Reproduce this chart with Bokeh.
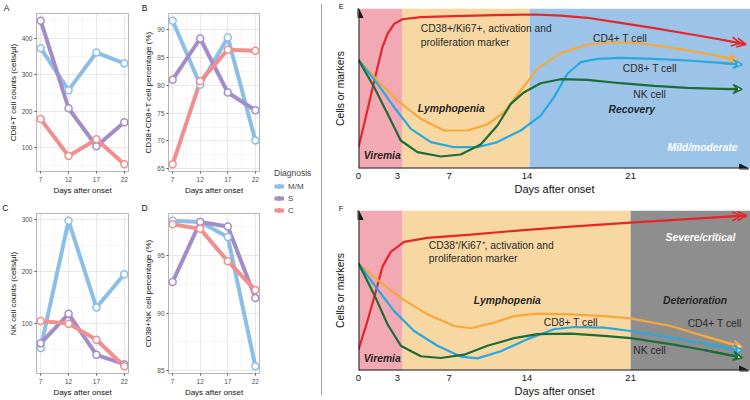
import math
from bokeh.plotting import figure
from bokeh.layouts import row, column
from bokeh.models import (Range1d, FixedTicker, Label, Legend, LegendItem, Arrow,
                          NormalHead, OpenHead, VeeHead, Span)
from bokeh.embed import file_html
from bokeh.resources import INLINE

FONT = "Liberation Sans"

# ---------------- data: panels A-D ----------------
days = [7, 12, 17, 22]
groups = ["M/M", "S", "C"]
group_colors = ["#8CBFE8", "#A38DC9", "#F28E8E"]

cd8_mm = [374, 258, 362, 332]
cd8_s = [450, 208, 103, 169]
cd8_c = [178, 76, 122, 53]

cd38cd8_mm = [91.6, 80.1, 88.6, 70.1]
cd38cd8_s = [81.0, 88.4, 78.7, 75.5]
cd38cd8_c = [65.8, 80.7, 86.4, 86.2]

nk_mm = [52, 297, 130, 194]
nk_s = [61, 118, 39, 21]
nk_c = [104, 99, 68, 17]

cd38nk_mm = [98.0, 97.9, 96.6, 85.4]
cd38nk_s = [92.7, 97.9, 97.5, 91.3]
cd38nk_c = [97.7, 97.3, 94.5, 92.0]

ticks_A = [100, 200, 300, 400]
ticks_B = [65, 70, 75, 80, 85, 90]
ticks_C = [100, 200, 300]
ticks_D = [85, 90, 95]

# ---------------- data: schematic panels E-F ----------------
phase_days = [0, 3, 7, 14, 21]
phase_tick_pos = [0, 3, 7, 13, 21]

E_phase_left = [0, 3.4, 13.2]
E_phase_right = [3.4, 13.2, 30.25]
E_phase_colors = ["#F3A9B3", "#F8D8A2", "#9CC4E8"]

F_phase_left = [0, 3.4, 21.0]
F_phase_right = [3.4, 21.0, 30.25]
F_phase_colors = ["#F3A9B3", "#F8D8A2", "#8E8E8E"]

RED, ORANGE, LBLUE, GREEN = "#E3262B", "#F6A83B", "#29A8E0", "#1D6B37"

E_act_x = [0, 0.44, 0.95, 1.47, 1.85, 2.24, 2.75, 3.39, 4.81, 7.38, 10.46, 13.55, 15.6, 17.66, 20.23, 22.8, 25.37, 27.94, 29.9]
E_act_y = [13.3, 27.9, 45.6, 63.3, 75.8, 84.2, 90.4, 93.3, 94.6, 95.2, 95.8, 96.25, 95.6, 94.2, 91.0, 87.7, 84.2, 80.6, 77.6]
E_cd4_x = [0, 1.47, 3.01, 4.81, 6.61, 8.41, 9.95, 11.23, 12.52, 13.8, 15.6, 17.66, 19.72, 21.77, 24.34, 26.92, 29.3]
E_cd4_y = [67.9, 55.0, 42.5, 31.0, 23.75, 23.75, 27.5, 35.2, 48.75, 62.3, 72.1, 77.5, 79.0, 78.3, 75.2, 71.7, 67.6]
E_cd8_x = [0, 1.47, 2.75, 4.04, 5.58, 7.38, 9.18, 10.72, 12.52, 14.06, 15.09, 16.12, 17.15, 18.43, 20.23, 22.8, 25.37, 27.94, 29.6]
E_cd8_y = [67.9, 52.9, 38.3, 24.8, 16.5, 13.3, 13.3, 16.5, 23.75, 33.1, 44.6, 59.2, 66.5, 68.5, 69.2, 68.5, 67.5, 66.0, 65.0]
E_nk_x = [0, 1.21, 2.24, 3.26, 4.55, 6.35, 7.89, 9.43, 10.72, 11.75, 12.78, 14.06, 15.6, 17.66, 20.23, 22.8, 25.37, 27.94, 29.6]
E_nk_y = [67.9, 50.8, 34.2, 17.5, 10.2, 7.5, 8.75, 15.0, 26.9, 40.4, 47.7, 53.3, 55.8, 55.4, 53.3, 51.7, 50.4, 49.8, 49.6]

F_act_x = [0, 0.69, 1.34, 1.85, 2.49, 3.52, 5.32, 8.66, 12.52, 16.38, 21.0, 25.37, 29.95]
F_act_y = [13.0, 30.9, 49.5, 64.9, 74.2, 80.4, 82.9, 84.9, 87.6, 89.9, 92.4, 94.6, 96.9]
F_cd4_x = [0, 1.47, 3.26, 5.32, 7.38, 8.66, 10.46, 12.0, 13.8, 16.38, 18.95, 21.0, 24.09, 26.66, 29.6]
F_cd4_y = [67.0, 56.7, 45.4, 35.1, 27.8, 26.4, 29.9, 34.0, 35.5, 35.1, 34.0, 32.6, 27.8, 21.6, 14.6]
F_cd8_x = [0, 1.21, 2.75, 4.29, 6.09, 7.89, 9.18, 10.98, 13.03, 15.09, 16.63, 18.95, 21.0, 24.09, 26.66, 29.6]
F_cd8_y = [67.0, 53.6, 37.1, 24.7, 15.5, 8.7, 7.6, 12.0, 19.6, 25.8, 27.2, 26.8, 24.7, 20.6, 16.9, 12.2]
F_nk_x = [0, 1.21, 2.24, 3.26, 4.81, 6.35, 8.15, 9.95, 12.0, 13.8, 16.38, 18.95, 21.0, 24.09, 26.66, 29.6]
F_nk_y = [67.0, 47.4, 28.9, 15.5, 8.9, 7.8, 9.9, 15.5, 20.2, 22.7, 23.1, 21.6, 20.2, 16.5, 12.8, 8.0]


def style_axes(p, tick_size, label_size):
    for ax in p.axis:
        ax.axis_line_color = None
        ax.minor_tick_line_color = None
        ax.major_label_text_font = FONT
        ax.major_label_text_font_size = tick_size
        ax.major_label_text_color = "#4D4D4D"
        ax.axis_label_text_font = FONT
        ax.axis_label_text_font_size = label_size
        ax.axis_label_text_font_style = "normal"
        ax.axis_label_text_color = "#111111"


def panel_letter(p, letter, dx, size, standoff):
    p.title.text = letter
    p.title.align = "left"
    p.title.offset = dx
    p.title.standoff = standoff
    p.title.text_font = FONT
    p.title.text_font_size = size
    p.title.text_font_style = "normal"
    p.title.text_color = "#111111"


def lines_panel(letter, series, yticks, ylabel, width, height, bl, br, bt, bb, letter_dx, letter_so):
    allv = [v for s in series for v in s]
    lo, hi = min(allv), max(allv)
    pad = 0.05 * (hi - lo)
    xpad = 0.05 * (days[-1] - days[0])
    x0, x1 = days[0] - xpad, days[-1] + xpad
    y0, y1 = lo - pad, hi + pad
    p = figure(width=width, height=height,
               x_range=Range1d(x0, x1), y_range=Range1d(y0, y1),
               output_backend="svg", toolbar_location=None, tools="",
               min_border_left=bl, min_border_right=br, min_border_top=bt, min_border_bottom=bb)
    ystep = yticks[1] - yticks[0]
    yminor = [yticks[0] - ystep / 2] + [t + ystep / 2 for t in yticks]
    xstep = days[1] - days[0]
    xminor = [d + xstep / 2 for d in days[:-1]]
    xt = FixedTicker(ticks=days, minor_ticks=xminor)
    yt = FixedTicker(ticks=yticks, minor_ticks=yminor)
    p.xaxis.ticker = xt
    p.yaxis.ticker = yt
    p.xgrid.ticker = xt
    p.ygrid.ticker = yt
    style_axes(p, "6.5px", "8px")
    for ax in p.axis:
        ax.major_tick_line_color = "#555555"
        ax.major_tick_out = 2
        ax.major_tick_in = 0
        ax.major_label_standoff = 1
        ax.axis_label_standoff = 1
    p.yaxis.major_label_standoff = 0
    p.yaxis.axis_label_standoff = 1
    p.xaxis.axis_label = "Days after onset"
    p.yaxis.axis_label = ylabel
    p.grid.grid_line_color = "#E2E2E2"
    p.grid.grid_line_width = 0.8
    p.grid.minor_grid_line_color = "#F0F0F0"
    p.grid.minor_grid_line_width = 0.6
    p.outline_line_color = "#B5B5B5"
    p.outline_line_width = 1
    for s, c in zip(series, group_colors):
        p.line(days, s, line_color=c, line_width=4)
    for s, c in zip(series, group_colors):
        p.scatter(days, s, marker="circle", size=7, fill_color="white", line_color=c, line_width=1.5)
    panel_letter(p, letter, letter_dx, "8.5px", letter_so)
    return p


TOP_H, BOT_H = 197, 202
pA = lines_panel("A", [cd8_mm, cd8_s, cd8_c], ticks_A, "CD8+T cell counts (cells/μl)",
                 141, TOP_H, 36, 13, 13, 21, -32.7, 1)
pB = lines_panel("B", [cd38cd8_mm, cd38cd8_s, cd38cd8_c], ticks_B, "CD38+CD8+T cell percentage (%)",
                 121, TOP_H, 24, 3, 13, 21, -26.7, 1)
pC = lines_panel("C", [nk_mm, nk_s, nk_c], ticks_C, "NK cell counts (cells/μl)",
                 141, BOT_H, 36, 13, 16, 26, -34.3, 2)
pD = lines_panel("D", [cd38nk_mm, cd38nk_s, cd38nk_c], ticks_D, "CD38+NK cell percentage (%)",
                 121, BOT_H, 24, 3, 16, 26, -27, 2)

# ---------------- legend column ----------------
LEG_H = TOP_H + BOT_H
pL = figure(width=56, height=LEG_H, x_range=Range1d(0, 1), y_range=Range1d(0, 1),
            x_axis_location=None, y_axis_location=None, min_border=0,
            output_backend="svg", toolbar_location=None, tools="")
pL.grid.visible = False
pL.outline_line_color = None
items = []
for g, c, s in zip(groups, group_colors, [cd8_mm, cd8_s, cd8_c]):
    # proxies for the legend keys (they fall outside this blank frame)
    r1 = pL.line(days, s, line_color=c, line_width=4)
    r2 = pL.scatter(days, s, marker="circle", size=6, fill_color=c, line_color=c)
    items.append(LegendItem(label=g, renderers=[r1, r2]))
leg = Legend(items=items, location=(12, LEG_H - 219), title="Diagnosis",
             title_text_font=FONT, title_text_font_size="8.5px", title_text_font_style="normal",
             title_standoff=3, label_text_font=FONT, label_text_font_size="8px",
             label_height=10, glyph_height=10, glyph_width=10, spacing=2, label_standoff=4,
             padding=0, margin=0, border_line_color=None, background_fill_alpha=0)
pL.add_layout(leg)

# ---------------- separator ----------------
pS = figure(width=6, height=LEG_H, x_range=Range1d(0, 1), y_range=Range1d(0, 1),
            x_axis_location=None, y_axis_location=None, min_border=0,
            output_backend="svg", toolbar_location=None, tools="")
pS.min_border_top = 3
pS.min_border_bottom = 4
pS.grid.visible = False
pS.outline_line_color = None
pS.add_layout(Span(location=0.5, dimension="height", line_color="#A0A0A0", line_width=1))

# ---------------- schematic panels ----------------
XMAX = 30.25


def schematic(letter, pl, pr, pc, curves, texts, bold_texts, width, height, bt, bb):
    bl = 34
    fw = width - bl
    fh = height - bt - bb
    px_x = fw / XMAX
    px_y = fh / 100.0
    p = figure(width=width, height=height, x_range=Range1d(0, XMAX), y_range=Range1d(0, 100),
               output_backend="svg", toolbar_location=None, tools="",
               min_border_left=bl, min_border_right=0, min_border_top=bt, min_border_bottom=bb)
    p.grid.visible = False
    p.outline_line_color = None
    p.quad(left=pl, right=pr, bottom=0, top=100, fill_color=pc, line_color=None)
    p.xaxis.ticker = FixedTicker(ticks=phase_tick_pos)
    p.xaxis.major_label_overrides = {pos: str(d) for pos, d in zip(phase_tick_pos, phase_days)}
    p.yaxis.ticker = FixedTicker(ticks=[])
    style_axes(p, "9.5px", "11px")
    for ax in p.axis:
        ax.major_tick_line_color = None
        ax.major_tick_out = 0
        ax.major_tick_in = 0
        ax.major_label_text_color = "#111111"
    p.xaxis.major_label_standoff = 4
    p.xaxis.axis_label_standoff = 1
    p.yaxis.major_label_standoff = 0
    p.yaxis.axis_label_standoff = 13
    p.yaxis.axis_label_text_font_size = "10.3px"
    p.xaxis.axis_label = "Days after onset"
    p.yaxis.axis_label = "Cells or markers"

    for xs, ys, c, kind in curves:
        p.line(xs, ys, line_color=c, line_width=2.2)
    for xs, ys, c, kind in curves:
        if kind == "double":
            dx = (xs[-1] - xs[-2]) * px_x
            dy = (ys[-1] - ys[-2]) * px_y
            L = math.hypot(dx, dy)
            bx = 5.5 * dx / L / px_x
            by = 5.5 * dy / L / px_y
            for k in (0, 1):
                p.add_layout(Arrow(end=OpenHead(size=9, line_color=c, line_width=1.6),
                                   x_start=xs[-2] - k * bx, y_start=ys[-2] - k * by,
                                   x_end=xs[-1] - k * bx, y_end=ys[-1] - k * by,
                                   line_color=c, line_width=1.5, line_alpha=0 if k else 1))
        else:
            p.add_layout(Arrow(end=VeeHead(size=9, fill_color="white", line_color=c, line_width=1.6),
                               x_start=xs[-2], y_start=ys[-2], x_end=xs[-1], y_end=ys[-1],
                               line_color=c, line_width=2.2))

    axcol = "#1A1A1A"
    p.add_layout(Arrow(end=NormalHead(size=9, fill_color=axcol, line_color=axcol),
                       x_start=0, y_start=0, x_end=0, y_end=100, line_width=2, line_color=axcol))
    p.add_layout(Arrow(end=NormalHead(size=9, fill_color=axcol, line_color=axcol),
                       x_start=0, y_start=0, x_end=XMAX - 0.15, y_end=0, line_width=2, line_color=axcol))

    for t, x, y in texts:
        p.add_layout(Label(x=x, y=y, text=t, text_font=FONT, text_font_size="10.3px",
                           text_baseline="middle", text_color="#2A2A2A"))
    for t, x, y, col in bold_texts:
        p.add_layout(Label(x=x, y=y, text=t, text_font=FONT, text_font_size="10.3px",
                           text_font_style="bold italic", text_baseline="middle", text_color=col))
    panel_letter(p, letter, -19.7, "7.5px", -4)
    return p


pE = schematic("E", E_phase_left, E_phase_right, E_phase_colors,
               [(E_act_x, E_act_y, RED, "double"), (E_cd4_x, E_cd4_y, ORANGE, "vee"),
                (E_cd8_x, E_cd8_y, LBLUE, "vee"), (E_nk_x, E_nk_y, GREEN, "vee")],
               [("CD38+/Ki67+, activation and", 4.8, 87.3), ("proliferation marker", 4.8, 78.9),
                ("CD4+ T cell", 18.1, 81.25), ("CD8+ T cell", 20.4, 62.5), ("NK cell", 21.2, 46.25)],
               [("Lymphopenia", 4.57, 37.5, "#262626"), ("Recovery", 19.3, 36.9, "#262626"),
                ("Viremia", 0.41, 8.1, "#262626"), ("Mild/moderate", 23.85, 13.1, "#FFFFFF")],
               426, TOP_H, 8, 29)
pF = schematic("F", F_phase_left, F_phase_right, F_phase_colors,
               [(F_act_x, F_act_y, RED, "double"), (F_cd4_x, F_cd4_y, ORANGE, "vee"),
                (F_cd8_x, F_cd8_y, LBLUE, "vee"), (F_nk_x, F_nk_y, GREEN, "vee")],
               [("CD38⁺/Ki67⁺, activation and", 5.42, 78.4), ("proliferation marker", 5.42, 70.1),
                ("CD8+ T cell", 14.3, 30.3), ("CD4+ T cell", 25.4, 29.5), ("NK cell", 21.2, 12.4)],
               [("Lymphopenia", 8.9, 43.7, "#262626"), ("Deterioration", 23.5, 43.7, "#262626"),
                ("Viremia", 0.41, 7.7, "#262626"), ("Severe/critical", 23.7, 82.9, "#FFFFFF")],
               426, BOT_H, 13, 27)

layout = row(column(pA, pC), column(pB, pD), pL, pS, column(pE, pF))
open("out.html", "w").write(file_html(layout, INLINE))
